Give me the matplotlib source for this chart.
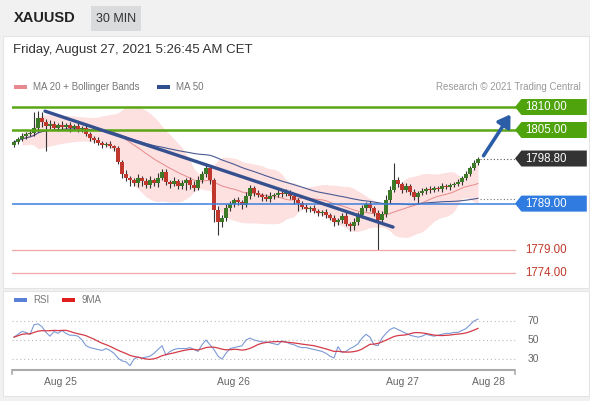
import numpy as np
import pandas as pd
import matplotlib
matplotlib.use("Agg")
import matplotlib.pyplot as plt
from matplotlib.patches import Rectangle, Polygon

plt.rcParams['font.family'] = ['Liberation Sans', 'DejaVu Sans']

# ---- data (30 min XAUUSD candles) ----
first_open = 1801.8
closes = [
    1802.4, 1803.0, 1803.7, 1804.1, 1804.3, 1805.4, 1807.6, 1806.7, 1805.9, 1806.3,
    1805.4, 1806.1, 1805.7, 1806.1, 1805.4, 1805.9, 1805.2, 1805.4, 1804.1, 1803.3,
    1802.8, 1802.2, 1801.7, 1802.0, 1801.5, 1801.1, 1798.0, 1795.4, 1794.6, 1794.1,
    1793.5, 1794.6, 1793.9, 1793.0, 1794.1, 1793.5, 1794.6, 1795.9, 1793.7, 1793.3,
    1793.9, 1792.8, 1793.5, 1794.1, 1793.0, 1792.4, 1794.1, 1795.4, 1796.7, 1794.1,
    1787.6, 1785.0, 1785.9, 1788.0, 1788.9, 1789.8, 1789.3, 1788.7, 1790.7, 1792.4,
    1791.3, 1790.9, 1790.4, 1790.0, 1790.7, 1790.9, 1791.3, 1791.1, 1791.5, 1790.7,
    1789.8, 1789.1, 1788.3, 1787.8, 1788.0, 1787.4, 1787.0, 1787.2, 1786.5, 1785.9,
    1785.0, 1785.4, 1786.3, 1784.6, 1784.1, 1785.0, 1786.5, 1788.0, 1788.9, 1788.0,
    1787.0, 1785.4, 1786.7, 1789.8, 1792.0, 1794.1, 1793.3, 1792.0, 1792.8, 1791.5,
    1790.4, 1791.3, 1791.7, 1792.2, 1792.0, 1792.4, 1792.2, 1792.8, 1792.6, 1793.0,
    1793.3, 1793.7, 1794.6, 1795.4, 1796.7, 1797.8, 1798.8]
wick_up = [
    0.5, 0.4, 0.6, 0.5, 0.8, 3.5, 1.6, 1.4, 0.6, 0.9,
    0.7, 0.5, 0.8, 0.4, 0.6, 0.5, 0.7, 0.4, 0.6, 0.5,
    0.4, 0.6, 0.5, 0.4, 0.7, 0.3, 0.5, 0.4, 0.8, 0.5,
    0.4, 0.9, 0.5, 0.6, 0.8, 0.5, 1.0, 0.7, 0.6, 0.5,
    0.8, 0.4, 0.7, 0.5, 0.6, 0.9, 1.0, 0.7, 0.7, 0.6,
    0.5, 0.8, 0.6, 1.0, 0.6, 0.5, 0.7, 0.4, 0.8, 0.6,
    0.5, 0.7, 0.4, 0.6, 0.8, 0.5, 0.6, 0.4, 0.7, 0.5,
    0.6, 0.4, 0.5, 0.7, 0.4, 0.6, 0.5, 0.4, 0.6, 0.5,
    0.7, 0.5, 0.6, 0.9, 0.5, 0.8, 0.6, 0.7, 0.5, 0.6,
    0.5, 0.6, 0.8, 1.0, 0.9, 3.7, 0.6, 0.5, 0.7, 0.5,
    0.6, 0.5, 0.7, 0.4, 0.6, 0.5, 0.4, 0.6, 0.5, 0.4,
    0.5, 0.6, 0.4, 0.7, 0.5, 0.6, 0.4]
wick_dn = [
    0.6, 0.5, 0.4, 0.7, 0.5, 0.6, 0.8, 1.0, 5.5, 0.6,
    0.5, 0.7, 0.6, 0.4, 0.8, 0.5, 0.6, 0.7, 0.5, 0.6,
    0.7, 0.5, 0.6, 0.4, 0.5, 0.6, 0.4, 0.8, 0.7, 1.2,
    0.6, 0.8, 1.0, 0.5, 0.7, 0.6, 0.9, 0.5, 0.6, 0.8,
    0.5, 0.7, 0.6, 1.6, 0.8, 0.6, 0.5, 0.7, 0.6, 0.8,
    2.5, 2.8, 1.0, 0.6, 0.5, 0.7, 0.6, 0.8, 0.5, 0.6,
    0.6, 0.5, 0.8, 0.4, 0.6, 0.7, 0.5, 0.6, 0.4, 0.7,
    0.8, 1.6, 0.5, 0.7, 0.6, 0.5, 0.8, 0.6, 0.7, 0.5,
    0.9, 0.6, 0.7, 0.5, 1.0, 0.8, 0.6, 0.7, 0.5, 0.6,
    0.6, 6.4, 0.8, 0.6, 0.7, 0.5, 0.6, 0.8, 0.5, 0.7,
    0.6, 1.5, 0.5, 0.7, 0.6, 0.5, 0.4, 0.6, 0.5, 0.6,
    0.4, 0.5, 0.6, 0.4, 0.5, 0.4, 0.3]
rsi = [
    53, 56, 59, 58, 56, 66, 67, 64, 58, 54,
    59, 57, 60, 57, 55, 55, 54, 50, 44, 42,
    41, 40, 39, 41, 39, 36, 31, 28, 27, 23,
    30, 32, 31, 32, 33, 36, 40, 44, 34, 38,
    40, 41, 41, 41, 42, 40, 38, 45, 50, 45,
    40, 33, 30, 36, 41, 42, 43, 44, 50, 52,
    50, 49, 48, 48, 47, 46, 45, 49, 48, 46,
    45, 43, 42, 42, 41, 40, 39, 38, 36, 33,
    31, 43, 37, 38, 41, 43, 46, 52, 56, 53,
    45, 44, 52, 57, 61, 63, 61, 59, 57, 55,
    54, 53, 54, 56, 55, 54, 55, 56, 57, 57,
    58, 58, 60, 62, 66, 70, 72]

date_labels = ["Aug 25", "Aug 26", "Aug 27", "Aug 28"]
date_pos = [11.5, 54.75, 97, 118.5]

resistances = [1810.00, 1805.00]
pivot = 1789.00
supports = [1779.00, 1774.00]
last_price = 1798.80
trend_start = (7.75, 1809.1)
trend_end = (94.75, 1783.9)
target_arrow = ((117, 1798.9), (124.5, 1808.9))

# ---- helpers ----
W, H = 590, 401
def fx(px):
    return px / W
def fy(py):
    return 1 - py / H

df = pd.DataFrame({"close": closes, "wu": wick_up, "wd": wick_dn})
df["open"] = [first_open] + closes[:-1]
df["high"] = df[["open", "close"]].max(axis=1) + df["wu"]
df["low"] = df[["open", "close"]].min(axis=1) - df["wd"]
idx = np.arange(len(df))
ma20 = df["close"].rolling(20, min_periods=3).mean()
sd20 = df["close"].rolling(20, min_periods=3).std()
ma50 = df["close"].rolling(50, min_periods=1).mean()
rsi_s = pd.Series(rsi, dtype=float)
rsi_ma = rsi_s.rolling(9, min_periods=1).mean()

fig = plt.figure(figsize=(5.9, 4.01), dpi=100)
fig.patch.set_facecolor("#f1f1f1")

# panels (behind the axes)
fig.patches.append(Rectangle((fx(3), fy(288)), fx(586), fy(36) - fy(288), transform=fig.transFigure,
                             facecolor="white", edgecolor="#e4e4e4", lw=0.8, zorder=-5))
fig.patches.append(Rectangle((fx(3), fy(396)), fx(586), fy(291) - fy(396), transform=fig.transFigure,
                             facecolor="white", edgecolor="#e4e4e4", lw=0.8, zorder=-5))
fig.patches.append(Rectangle((fx(91), fy(31)), fx(50), fy(6) - fy(31), transform=fig.transFigure,
                             facecolor="#dadbdd", edgecolor="none", zorder=-4))

fig.text(fx(14), fy(18), "XAUUSD", fontsize=10.5, fontweight="bold", color="#222222", va="center")
fig.text(fx(116), fy(18.5), "30 MIN", fontsize=9, color="#333333", va="center", ha="center")
fig.text(fx(13), fy(50.5), "Friday, August 27, 2021 5:26:45 AM CET", fontsize=9.5, color="#333333", va="center")

# legend row
fig.patches.append(Rectangle((fx(14), fy(89)), fx(13), fy(85) - fy(89), transform=fig.transFigure,
                             facecolor="#e8888f", edgecolor="none"))
fig.text(fx(33), fy(87), "MA 20 + Bollinger Bands", fontsize=7, color="#777777", va="center")
fig.patches.append(Rectangle((fx(157), fy(89)), fx(13), fy(85) - fy(89), transform=fig.transFigure,
                             facecolor="#2f4f8f", edgecolor="none"))
fig.text(fx(176), fy(87), "MA 50", fontsize=7, color="#777777", va="center")
fig.text(fx(581), fy(87), "Research \u00a9 2021 Trading Central", fontsize=7, color="#999999",
         va="center", ha="right")

# ---- price axes ----
ax = fig.add_axes([fx(12), fy(282), fx(588) - fx(12), fy(95) - fy(282)])
ax.set_xlim(-0.5, 143.5)
ax.set_ylim(1810 - 175 / 4.6, 1810 + 12 / 4.6)
ax.axis("off")

ax.fill_between(idx, ma20 + 2 * sd20, ma20 - 2 * sd20, color="#fde0e0", lw=0, zorder=1)
ax.plot(idx, ma20, color="#e88a8a", lw=0.7, zorder=2)
ax.plot(idx, ma50, color="#4a5a92", lw=0.8, zorder=2)

up = df["close"] >= df["open"]
colors = np.where(up, "#3c7a28", "#c0372e")
ax.vlines(idx, df["low"], df["high"], color="#333333", lw=0.8, zorder=3)
body_h = (df["close"] - df["open"]).abs().clip(lower=0.15)
ax.bar(idx, body_h, bottom=df[["open", "close"]].min(axis=1), width=0.78, color=colors,
       edgecolor="none", zorder=4)

x_end = 125.25  # label column starts here
for r in resistances:
    ax.plot([-0.5, x_end], [r, r], color="#5aa614", lw=1.8, zorder=5)
ax.plot([-0.5, x_end], [pivot, pivot], color="#3b7fdc", lw=1.1, zorder=5)
for s in supports:
    ax.plot([-0.5, x_end], [s, s], color="#f2a7a7", lw=0.9, zorder=5)
ax.plot([idx[-1] + 0.6, x_end], [last_price, last_price], color="#555555", lw=0.8, ls=(0, (1, 2)), zorder=5)
ax.plot([idx[-1] + 0.6, x_end], [1789.9, 1789.9], color="#777777", lw=0.8, ls=(0, (1, 2)), zorder=5)

ax.plot([trend_start[0], trend_end[0]], [trend_start[1], trend_end[1]], color="#34508f", lw=2.4,
        solid_capstyle="round", zorder=6)
ax.annotate("", xy=target_arrow[1], xytext=target_arrow[0],
            arrowprops=dict(arrowstyle="-|>,head_length=0.7,head_width=0.45", color="#2b5ea7", lw=2.6),
            zorder=7)

def tag(price, text, fc):
    h = 8 / 4.6
    pts = [(x_end, price), (x_end + 1.6, price + h), (143.2, price + h),
           (143.2, price - h), (x_end + 1.6, price - h)]
    ax.add_patch(Polygon(pts, closed=True, facecolor=fc, edgecolor="none", zorder=8, clip_on=False))
    ax.text(x_end + 2.6, price, text, color="white", fontsize=8.3, va="center", ha="left", zorder=9)

for r in resistances:
    tag(r, f"{r:.2f}", "#4fa30c")
tag(last_price, f"{last_price:.2f}", "#333333")
tag(pivot, f"{pivot:.2f}", "#2f7be0")
for s in supports:
    ax.text(x_end + 2.6, s, f"{s:.2f}", color="#c0392b", fontsize=8.3, va="center", ha="left")

# ---- RSI axes ----
ax2 = fig.add_axes([fx(12), fy(376), fx(588) - fx(12), fy(305) - fy(376)])
ax2.set_xlim(-0.5, 143.5)
ax2.set_ylim(30 - 17 / 0.95, 70 + 16 / 0.95)
ax2.axis("off")
for lvl in [70, 50, 30]:
    ax2.plot([-0.5, x_end], [lvl, lvl], color="#bbbbbb", lw=0.8, ls=(0, (1, 2.5)))
    ax2.text(x_end + 3.2, lvl, str(lvl), color="#666666", fontsize=7.5, va="center", ha="left")
ax2.plot(idx, rsi_s, color="#7c9ad6", lw=0.8)
ax2.plot(idx, rsi_ma, color="#d43a48", lw=0.9)
base = 30 - 11 / 0.95
ax2.plot([-0.5, x_end], [base, base], color="#aaaaaa", lw=1.5, solid_capstyle="butt")
ax2.plot([-0.5, -0.5], [base, base - 4.5], color="#aaaaaa", lw=1.2, clip_on=False)
ax2.plot([x_end, x_end], [base, base - 4.5], color="#aaaaaa", lw=1.2, clip_on=False)
for lab, pos in zip(date_labels, date_pos):
    ax2.text(pos, base - 13, lab, color="#666666", fontsize=7.5, ha="center", va="center", clip_on=False)

fig.patches.append(Rectangle((fx(14), fy(302)), fx(13), fy(298) - fy(302), transform=fig.transFigure,
                             facecolor="#5b80d8", edgecolor="none"))
fig.text(fx(33), fy(300), "RSI", fontsize=7, color="#777777", va="center")
fig.patches.append(Rectangle((fx(62), fy(302)), fx(13), fy(298) - fy(302), transform=fig.transFigure,
                             facecolor="#e01e1e", edgecolor="none"))
fig.text(fx(81), fy(300), "9MA", fontsize=7, color="#777777", va="center")

fig.savefig("out.png", dpi=100, facecolor=fig.get_facecolor())
